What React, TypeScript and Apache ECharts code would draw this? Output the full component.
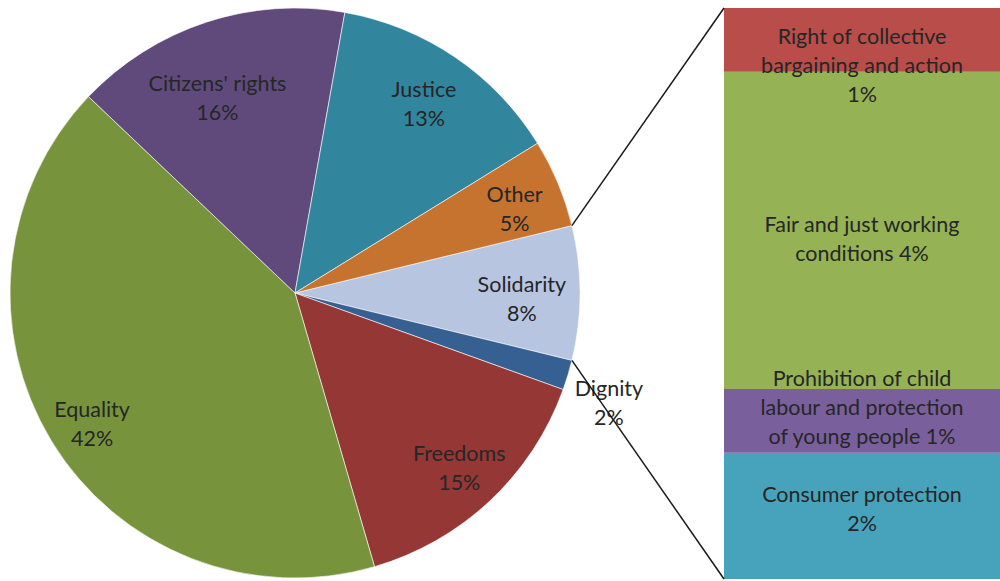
import React, { useEffect, useRef } from "react";
import * as echarts from "echarts";

// ---- Data ----
const pieNames = ["Solidarity", "Dignity", "Freedoms", "Equality", "Citizens' rights", "Justice", "Other"];
const pieValues = [7.6, 1.7, 15.0, 41.6, 15.7, 13.4, 5.0];
const pieColors = ["#B8C5E0", "#376092", "#953735", "#77933C", "#604A7B", "#31859C", "#C5732F"];

// breakdown of "Solidarity" (top to bottom)
const barNames = [
  "Right of collective\nbargaining and action",
  "Fair and just working\nconditions",
  "Prohibition of child\nlabour and protection\nof young people",
  "Consumer protection",
];
const barValues = [0.85, 4.22, 0.85, 1.68];
const barPctSep = ["\n", " ", " ", "\n"];
const barColors = ["#B84D4A", "#95B254", "#7A5F9D", "#47A3BC"];

// ---- Layout ----
const W = 1000;
const H = 581;
const CX = 295;
const CY = 293;
const R = 285;
const BAR_LEFT = 724;
const BAR_TOP = 8;
const BAR_BOTTOM = 579;
const FONT = "Lato, 'Open Sans', sans-serif";
const FONT_SIZE = 21.5;
const LINE_H = 29;
const TEXT = "#262626";
// label placement: radius factor and nudge per slice
const labelRadius = [0.796, 1.165, 0.842, 0.85, 0.737, 0.805, 0.835];
const labelNudge = [
  [0, 5],
  [-4, 14],
  [0, 0],
  [4, 5],
  [-12, 4],
  [0, 0],
  [0, 7],
];
const barLabelOffset = [25, 8, -14, -7];

export default function App() {
  const ref = useRef<HTMLDivElement>(null);

  useEffect(() => {
    if (!ref.current) return;
    const chart = echarts.init(ref.current, undefined, { renderer: "svg" });
    const total = pieValues.reduce((a, b) => a + b, 0);
    const half = (pieValues[0] / total) * 360 / 2;

    // mid angles (screen, clockwise from east, degrees)
    const mids: number[] = [];
    let acc = -half;
    pieValues.forEach((v) => {
      const span = (v / total) * 360;
      mids.push(acc + span / 2);
      acc += span;
    });

    const hr = (half * Math.PI) / 180;
    const p1 = [CX + R * Math.cos(hr), CY - R * Math.sin(hr)];
    const p2 = [CX + R * Math.cos(hr), CY + R * Math.sin(hr)];

    const barSeries: any[] = [];
    const labelSeries: any[] = [];
    for (let i = barNames.length - 1; i >= 0; i--) {
      barSeries.push({
        type: "bar",
        stack: "sol",
        name: barNames[i],
        data: [barValues[i]],
        barWidth: "100%",
        silent: true,
        z: 2,
        itemStyle: { color: barColors[i] },
      });
      labelSeries.push({
        type: "bar",
        stack: "lab",
        barGap: "-100%",
        data: [barValues[i]],
        barWidth: "100%",
        silent: true,
        z: 10,
        itemStyle: { color: "rgba(0,0,0,0)" },
        label: {
          show: true,
          position: "inside",
          offset: [0, barLabelOffset[i]],
          formatter: () =>
            `${barNames[i]}${barPctSep[i]}${Math.round((barValues[i] / total) * 100)}%`,
          color: TEXT,
          fontSize: FONT_SIZE,
          lineHeight: LINE_H,
          fontFamily: FONT,
          align: "center",
        },
      });
    }

    chart.setOption({
      animation: false,
      grid: { left: BAR_LEFT, top: BAR_TOP, width: W - BAR_LEFT, height: BAR_BOTTOM - BAR_TOP },
      xAxis: { type: "category", data: ["Solidarity"], show: false },
      yAxis: { type: "value", min: 0, max: pieValues[0], show: false },
      series: [
        {
          type: "pie",
          center: [CX, CY],
          radius: R,
          startAngle: half,
          clockwise: true,
          silent: true,
          avoidLabelOverlap: false,
          itemStyle: { borderColor: "#ffffff", borderWidth: 0.6 },
          data: pieNames.map((n, i) => ({
            name: n,
            value: pieValues[i],
            itemStyle: { color: pieColors[i] },
          })),
          label: {
            show: true,
            position: "inside",
            formatter: (p: any) => `${p.name}\n${Math.round((p.value / total) * 100)}%`,
            color: TEXT,
            fontSize: FONT_SIZE,
            lineHeight: LINE_H,
            fontFamily: FONT,
            align: "center",
          },
          labelLine: { show: false },
          labelLayout: (params: any) => {
            const i = params.dataIndex;
            const a = (mids[i] * Math.PI) / 180;
            const r = R * labelRadius[i];
            return {
              x: CX + r * Math.cos(a) + labelNudge[i][0],
              y: CY + r * Math.sin(a) + labelNudge[i][1],
              align: "center",
              verticalAlign: "middle",
            };
          },
        },
        ...barSeries,
        ...labelSeries,
      ],
      graphic: [
        {
          type: "line",
          z: 100,
          shape: { x1: p1[0], y1: p1[1], x2: BAR_LEFT, y2: BAR_TOP },
          style: { stroke: "#1a1a1a", lineWidth: 1.5 },
        },
        {
          type: "line",
          z: 100,
          shape: { x1: p2[0], y1: p2[1], x2: BAR_LEFT, y2: BAR_BOTTOM },
          style: { stroke: "#1a1a1a", lineWidth: 1.5 },
        },
      ],
    });
    return () => chart.dispose();
  }, []);

  return (
    <div
      ref={ref}
      style={{ position: "absolute", left: 0, top: 0, width: W, height: H, background: "#fff" }}
    />
  );
}
